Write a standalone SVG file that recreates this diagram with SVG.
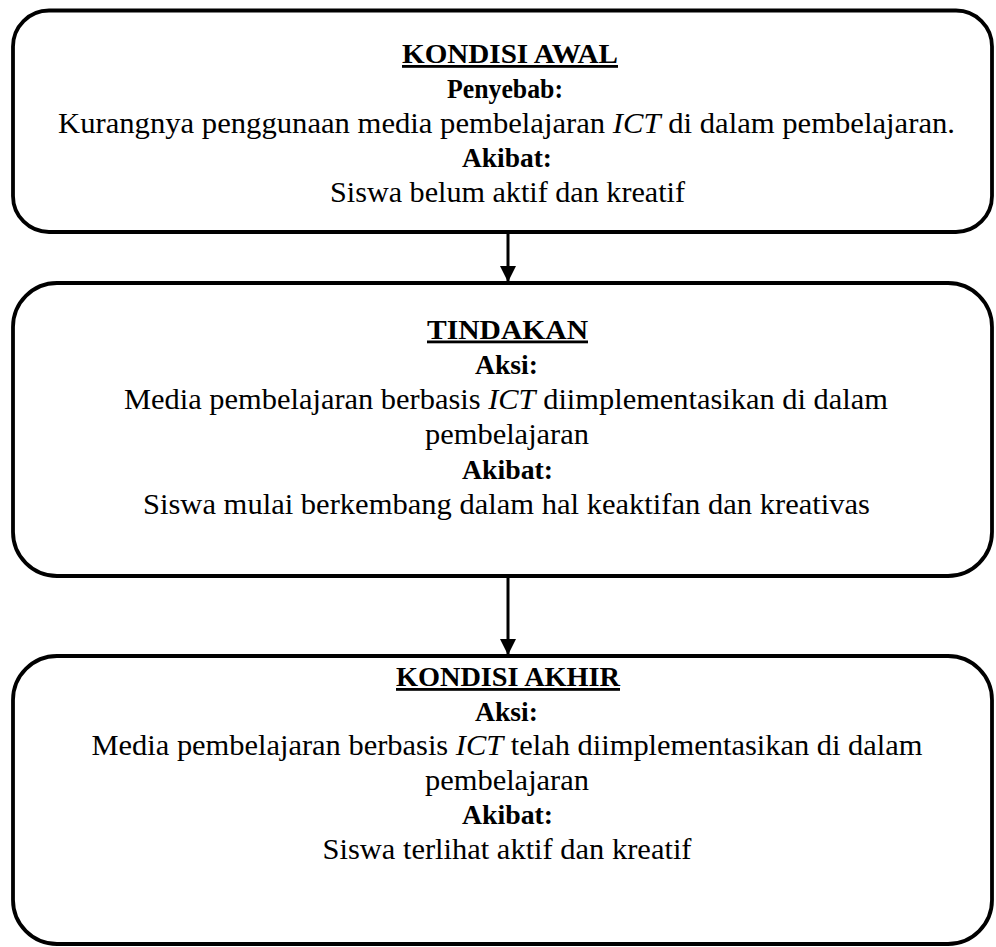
<svg xmlns="http://www.w3.org/2000/svg" width="996" height="947" viewBox="0 0 996 947">
<style>
.box{fill:#fff;stroke:#000;stroke-width:3.8}
text{font-family:"Liberation Serif","Times New Roman",serif;font-size:29.5px;fill:#000;text-anchor:middle}
.h{font-weight:bold;font-size:28px;text-decoration:underline}
.b{font-weight:bold;font-size:27.5px}
.i{font-style:italic}
.c{stroke:#000;stroke-width:3;fill:none}
</style>
<defs>
<marker id="ah" markerUnits="userSpaceOnUse" markerWidth="16" markerHeight="16" viewBox="0 0 16 16" refX="16" refY="8" orient="auto">
<path d="M0,0 L16,8 L0,16 Z" fill="#000"/>
</marker>
</defs>
<rect width="996" height="947" fill="#fff"/>
<g id="connectors">
<line class="c" x1="508" y1="233" x2="508" y2="282" marker-end="url(#ah)"/>
<line class="c" x1="508" y1="577" x2="508" y2="655" marker-end="url(#ah)"/>
</g>
<g id="kondisi-awal">
<rect class="box" x="13" y="10.5" width="979" height="221.5" rx="36" ry="36"/>
<text class="h" x="510" y="63" textLength="216" lengthAdjust="spacingAndGlyphs">KONDISI AWAL</text>
<text class="b" x="505" y="97.5" textLength="116" lengthAdjust="spacingAndGlyphs">Penyebab:</text>
<text x="506.5" y="132.5" textLength="897" lengthAdjust="spacingAndGlyphs">Kurangnya penggunaan media pembelajaran <tspan class="i">ICT</tspan> di dalam pembelajaran.</text>
<text class="b" x="507" y="167" textLength="90" lengthAdjust="spacingAndGlyphs">Akibat:</text>
<text x="507.5" y="201.5" textLength="355" lengthAdjust="spacingAndGlyphs">Siswa belum aktif dan kreatif</text>
</g>
<g id="tindakan">
<rect class="box" x="13" y="283" width="979" height="293" rx="44" ry="44"/>
<text class="h" x="507.5" y="338.5" textLength="161" lengthAdjust="spacingAndGlyphs">TINDAKAN</text>
<text class="b" x="506.5" y="373.5" textLength="63" lengthAdjust="spacingAndGlyphs">Aksi:</text>
<text x="506" y="408.5" textLength="764" lengthAdjust="spacingAndGlyphs">Media pembelajaran berbasis <tspan class="i">ICT</tspan> diimplementasikan di dalam</text>
<text x="507" y="443.5" textLength="164" lengthAdjust="spacingAndGlyphs">pembelajaran</text>
<text class="b" x="507.5" y="478.5" textLength="91" lengthAdjust="spacingAndGlyphs">Akibat:</text>
<text x="506.5" y="513.5" textLength="727" lengthAdjust="spacingAndGlyphs">Siswa mulai berkembang dalam hal keaktifan dan kreativas</text>
</g>
<g id="kondisi-akhir">
<rect class="box" x="13" y="656" width="979" height="288" rx="44" ry="44"/>
<text class="h" x="508" y="686" textLength="224" lengthAdjust="spacingAndGlyphs">KONDISI AKHIR</text>
<text class="b" x="506.5" y="720.5" textLength="63" lengthAdjust="spacingAndGlyphs">Aksi:</text>
<text x="507" y="755" textLength="831" lengthAdjust="spacingAndGlyphs">Media pembelajaran berbasis <tspan class="i">ICT</tspan> telah diimplementasikan di dalam</text>
<text x="507" y="789.5" textLength="164" lengthAdjust="spacingAndGlyphs">pembelajaran</text>
<text class="b" x="507.5" y="824" textLength="91" lengthAdjust="spacingAndGlyphs">Akibat:</text>
<text x="507" y="858.5" textLength="369" lengthAdjust="spacingAndGlyphs">Siswa terlihat aktif dan kreatif</text>
</g>
</svg>
